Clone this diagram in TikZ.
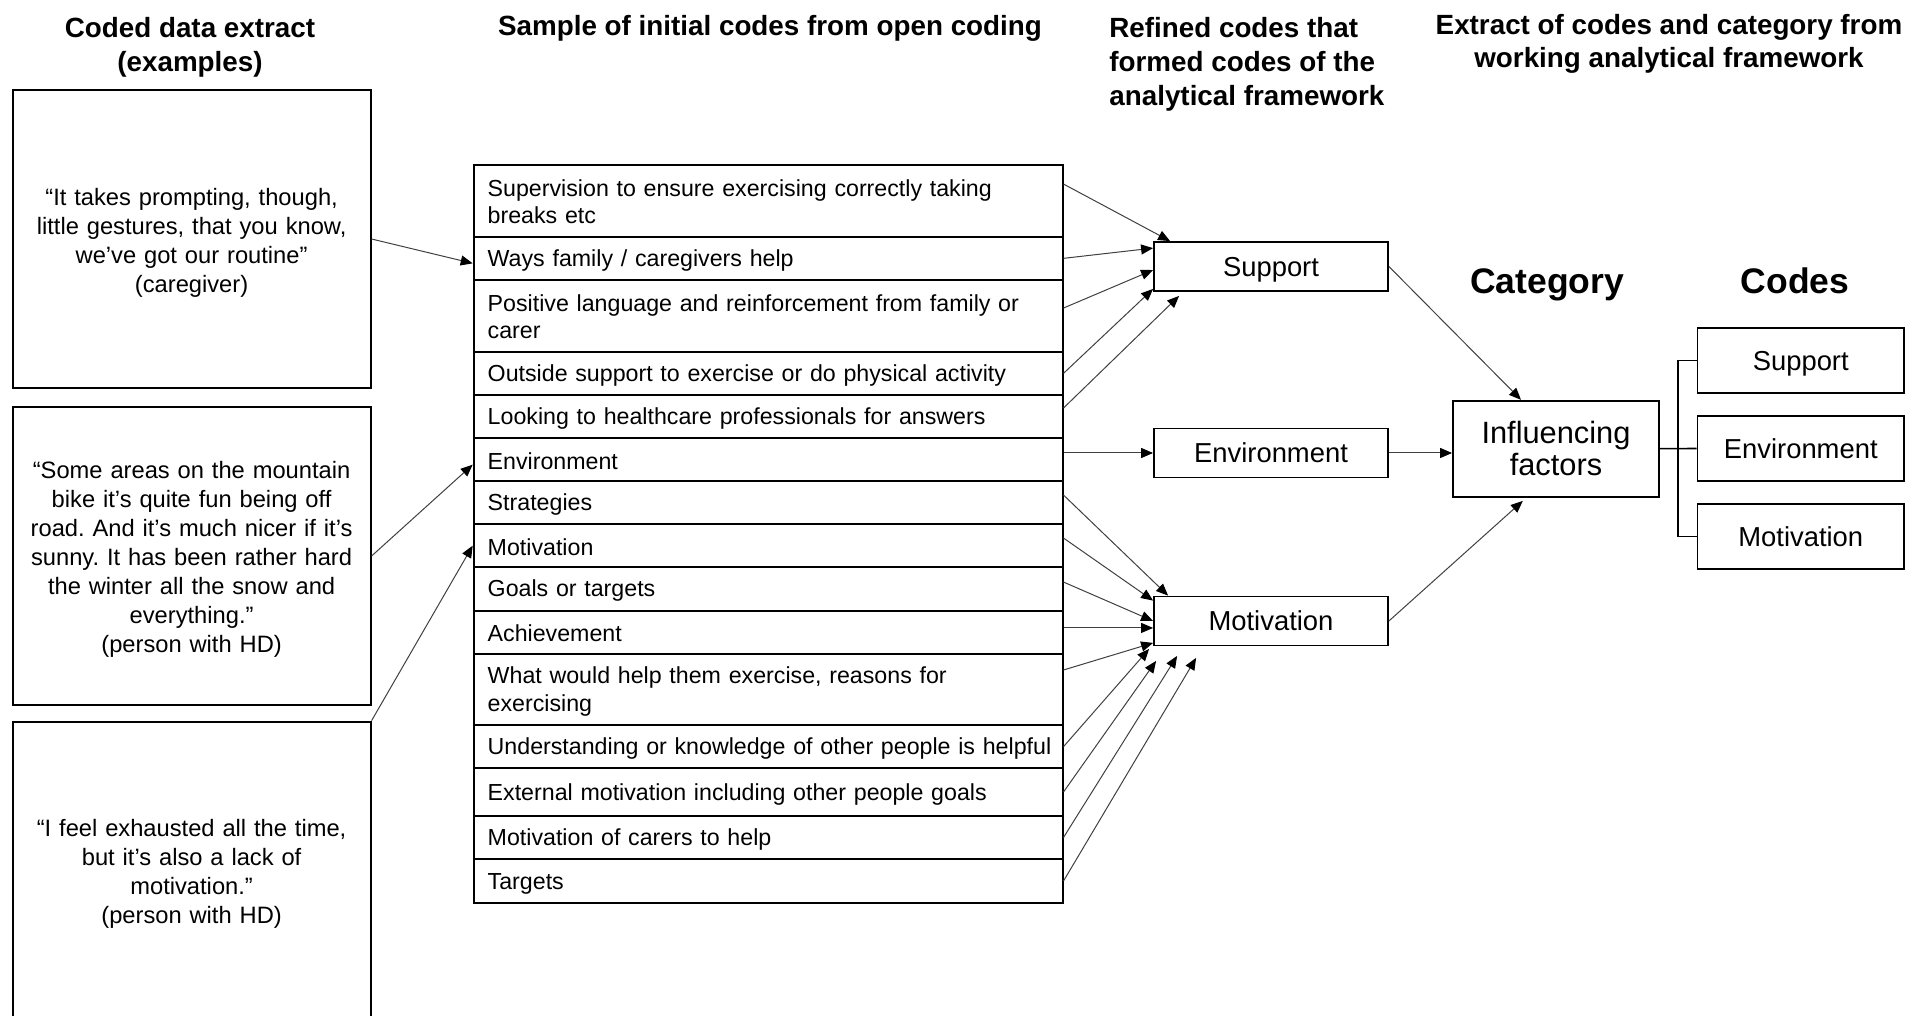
\documentclass[tikz,border=0pt]{standalone}
\usepackage{fontspec}
\setmainfont{Liberation Sans}
\usetikzlibrary{arrows.meta}
\AtBeginDocument{\frenchspacing}
% struts that keep every text line on the same baseline grid
\newcommand\topstrut{\rule{0pt}{10.5pt}}
\newcommand\quotestrut{\rule{0pt}{12pt}}
\newcommand\botstrut{\rule[-1pt]{0pt}{1pt}}
\begin{document}
\begin{tikzpicture}[x=0.5pt, y=-0.5pt,
  heading/.style={font=\fontsize{13.9pt}{16.6pt}\selectfont\bfseries, inner sep=0pt, align=center},
  bighead/.style={font=\fontsize{17.75pt}{20pt}\selectfont\bfseries, inner sep=0pt},
  quotebox/.style={draw, line width=1pt, minimum width=179pt, minimum height=149pt,
    text width=176pt, inner xsep=1.5pt, inner ysep=0pt, align=center,
    execute at begin node={\quotestrut}, execute at end node={\botstrut},
    font=\fontsize{11.85pt}{14.5pt}\selectfont},
  coderow/.style={draw, line width=1pt, anchor=west, text width=287.4pt, inner xsep=3.5pt,
    inner ysep=0pt, align=left, execute at begin node={\leftskip=3.5pt\topstrut},
    execute at end node={\botstrut},
    font=\fontsize{11.6pt}{13.6pt}\selectfont},
  single/.style={minimum height=21.65pt},
  double/.style={minimum height=35.85pt},
  refbox/.style={draw, line width=0.9pt, minimum width=117pt, minimum height=24.5pt,
    inner sep=0pt, text height=9.8pt, text depth=0pt, font=\fontsize{13.7pt}{16pt}\selectfont},
  codebox/.style={draw, line width=0.9pt, minimum width=103.25pt, minimum height=32.5pt,
    inner sep=0pt, text height=9.8pt, text depth=0pt, font=\fontsize{13.7pt}{16pt}\selectfont},
  catbox/.style={draw, line width=0.9pt, minimum width=103pt, minimum height=48pt,
    inner sep=0pt, align=center, font=\fontsize{15.4pt}{16pt}\selectfont},
  arr/.style={draw=black!75, line width=0.5pt, -{Triangle[length=6pt, width=5pt, color=black]}},
  bracket/.style={draw=black, line width=0.8pt}
]
\useasboundingbox (0,0) rectangle (1908,1016);
\clip (0,0) rectangle (1908,1016);

% column headings
\node[heading, font=\fontsize{13.9pt}{17pt}\selectfont\bfseries] (h1) at (190,47) {Coded data extract\\(examples)};
\node[heading] (h2) at (770,28) {Sample of initial codes from open coding};
\node[heading, anchor=west, align=left, font=\fontsize{13.9pt}{17pt}\selectfont\bfseries] (h3) at (1109,64) {Refined codes that\\formed codes of the\\analytical framework};
\node[heading] (h4) at (1669,43.5) {Extract of codes and category from\\working analytical framework};
\node[bighead, anchor=base] (hcat) at (1547,293.3) {Category};
\node[bighead, anchor=base] (hcod) at (1795,293.3) {Codes};

% coded data extracts
\node[quotebox] (qa) at (191.6,239) {“It takes prompting, though,\\little gestures, that you know,\\we’ve got our routine”\\(caregiver)};
\node[quotebox] (qb) at (191.6,556) {“Some areas on the mountain\\bike it’s quite fun being off\\road. And it’s much nicer if it’s\\sunny. It has been rather hard\\the winter all the snow and\\everything.”\\(person with HD)};
\node[quotebox] (qc) at (191.6,870.6) {“I feel exhausted all the time,\\but it’s also a lack of\\motivation.”\\(person with HD)};

% initial codes
\node[coderow, double] (r1) at (472.7,200.85) {Supervision to ensure exercising correctly taking\\breaks etc};
\node[coderow, single] (r2) at (472.7,258.35) {Ways family / caregivers help};
\node[coderow, double] (r3) at (472.7,315.85) {Positive language and reinforcement from family or\\carer};
\node[coderow, single] (r4) at (472.7,373.35) {Outside support to exercise or do physical activity};
\node[coderow, single] (r5) at (472.7,416.65) {Looking to healthcare professionals for answers};
\node[coderow, single] (r6) at (472.7,459.65) {Environment};
\node[coderow, single] (r7) at (472.7,502.65) {Strategies};
\node[coderow, single] (r8) at (472.7,545.65) {Motivation};
\node[coderow, single] (r9) at (472.7,588.85) {Goals or targets};
\node[coderow, single] (r10) at (472.7,632.35) {Achievement};
\node[coderow, minimum height=35.5pt] (r11) at (472.7,689.5) {What would help them exercise, reasons for\\exercising};
\node[coderow, single] (r12) at (472.7,746.65) {\mbox{Understanding or knowledge of other people is helpful}};
\node[coderow, minimum height=23.7pt] (r13) at (472.7,792) {External motivation including other people goals};
\node[coderow, single] (r14) at (472.7,837.5) {Motivation of carers to help};
\node[coderow, single] (r15) at (472.7,881) {Targets};

% refined codes
\node[refbox] (sup) at (1271,266.5) {Support};
\node[refbox] (env) at (1271,453) {Environment};
\node[refbox] (mot) at (1271,621) {Motivation};

% category and its codes
\node[catbox] (infl) at (1556,448.7) {Influencing\\factors};
\node[codebox] (csup) at (1800.75,360.5) {Support};
\node[codebox] (cenv) at (1800.75,448.5) {Environment};
\node[codebox] (cmot) at (1800.75,536.5) {Motivation};
\coordinate (bx) at (1678,448.7);

% extracts to initial codes
\draw[arr] (qa.east) -- ([yshift=-2.5pt]r2.west);
\draw[arr] (qb.east) -- ([yshift=-2.5pt]r6.west);
\draw[arr] (qc.north east) -- (r8.west);

% initial codes to Support
\draw[arr] ([yshift=8.4pt]r1.east) -- ([xshift=8.5pt]sup.north west);
\draw[arr] (r2.east) -- ([yshift=-3.5pt]sup.north west);
\draw[arr] ([yshift=3.9pt]r3.east) -- ([yshift=-1.75pt]sup.west);
\draw[arr] (r4.east) -- ([yshift=1.5pt]sup.south west);
\draw[arr] ([yshift=4.3pt]r5.east) -- ([xshift=13pt,yshift=-2pt]sup.south west);

% initial code to Environment
\draw[arr] (r6.east |- env.west) -- (env.west);

% initial codes to Motivation
\draw[arr] ([yshift=3.8pt]r7.east) -- ([xshift=7.5pt]mot.north west);
\draw[arr] ([yshift=3.8pt]r8.east) -- ([yshift=-2.5pt]mot.north west);
\draw[arr] ([yshift=3.4pt]r9.east) -- (mot.west);
\draw[arr] ([yshift=2.2pt]r10.east) -- ([yshift=2.2pt]r10.east -| mot.west);
\draw[arr] ([yshift=9.75pt]r11.east) -- ([yshift=1.75pt]mot.south west);
\draw[arr] (r12.east) -- ([xshift=-2pt,yshift=-1.25pt]mot.south west);
\draw[arr] (r13.east) -- ([xshift=1.5pt,yshift=-7.25pt]mot.south west);
\draw[arr] (r14.east) -- ([xshift=12pt,yshift=-4.75pt]mot.south west);
\draw[arr] (r15.east) -- ([xshift=21.5pt,yshift=-5.75pt]mot.south west);

% refined codes to category
\draw[arr] (sup.east) -- ([xshift=-17.5pt]infl.north);
\draw[arr] (env.east) -- (env.east -| infl.west);
\draw[arr] (mot.east) -- ([xshift=-16.6pt,yshift=-1.65pt]infl.south);

% category bracket to its codes
\draw[bracket] (infl.east) -- (cenv.west);
\draw[bracket] (csup.west) -- (csup.west -| bx) -- (cmot.west -| bx) -- (cmot.west);
\end{tikzpicture}
\end{document}
